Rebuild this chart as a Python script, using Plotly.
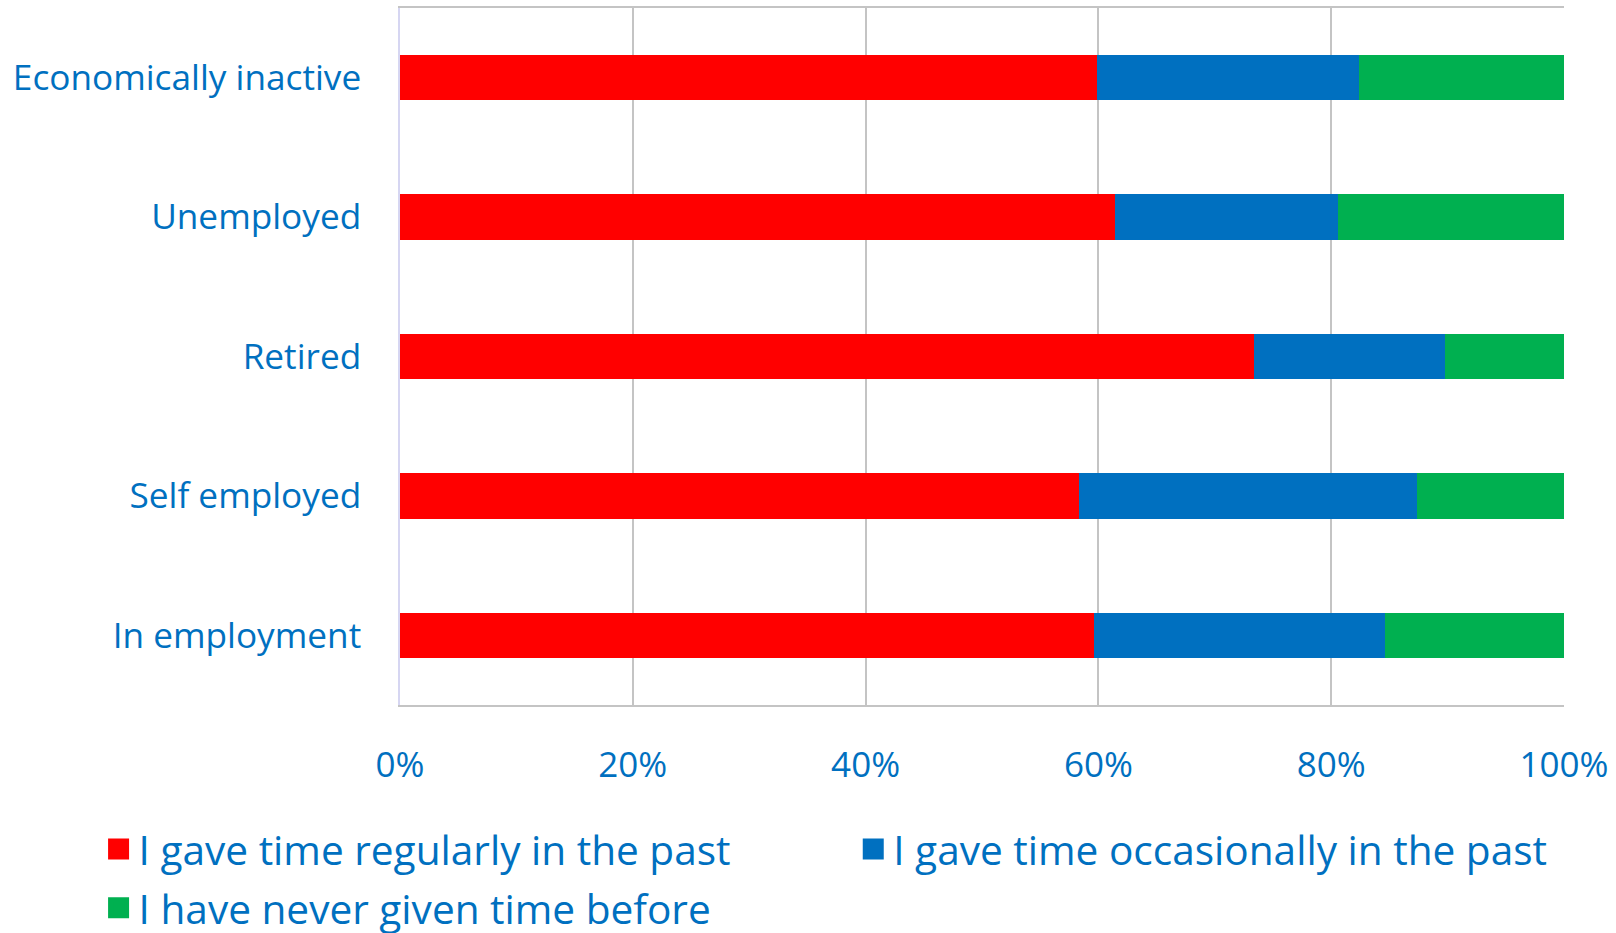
import plotly.graph_objects as go

# Employment status, bottom to top on the chart
categories = ["In employment", "Self employed", "Retired", "Unemployed", "Economically inactive"]

# Share of respondents (%) per answer
gave_regularly = [59.6, 58.3, 73.4, 61.4, 59.9]
gave_occasionally = [25.0, 29.1, 16.4, 19.2, 22.5]
never_given = [15.4, 12.6, 10.2, 19.4, 17.6]

series_names = [
    "I gave time regularly in the past",
    "I gave time occasionally in the past",
    "I have never given time before",
]
series_colors = ["#FF0000", "#0070C0", "#00B050"]
x_ticks = [0, 20, 40, 60, 80, 100]
x_tick_labels = [f"{v}%" for v in x_ticks]

TEXT = "#0070C0"
FONT = "Open Sans"

fig = go.Figure()

for name, vals, col in zip(series_names, [gave_regularly, gave_occasionally, never_given], series_colors):
    fig.add_trace(go.Bar(
        y=categories, x=vals, orientation="h", name=name,
        marker=dict(color=col, line=dict(width=0)),
        showlegend=False,
    ))

# Legend keys: one small legend per series so each entry sits in its own spot
legend_ids = ["legend", "legend2", "legend3"]
for name, col, lid in zip(series_names, series_colors, legend_ids):
    fig.add_trace(go.Scatter(
        x=[None], y=[None], mode="markers", name=name,
        marker=dict(symbol="square", size=16, color=col, line=dict(color=col, width=5)),
        legend=lid,
    ))

legend_style = dict(
    orientation="h", xref="container", yref="container",
    xanchor="left", yanchor="middle",
    font=dict(size=40.6, color=TEXT, family=FONT),
    bgcolor="rgba(0,0,0,0)",
)

fig.update_layout(
    width=1616, height=933,
    margin=dict(l=400, r=51.5, t=7.5, b=228, autoexpand=False),
    barmode="stack", bargap=0.675,
    plot_bgcolor="white", paper_bgcolor="white",
    font=dict(family=FONT, color=TEXT),
    legend=dict(legend_style, x=0.061, y=0.090),
    legend2=dict(legend_style, x=0.528, y=0.090),
    legend3=dict(legend_style, x=0.061, y=0.027),
)

fig.update_xaxes(
    range=[0, 100], tickmode="array", tickvals=x_ticks, ticktext=x_tick_labels,
    showgrid=True, gridcolor="#C4C4C4", gridwidth=1.5,
    zeroline=False, showline=True, mirror=True, linecolor="#C4C4C4", linewidth=1.5,
    ticks="", ticklabelstandoff=28,
    tickfont=dict(size=35, color=TEXT, family=FONT),
)
fig.update_yaxes(
    categoryorder="array", categoryarray=categories, range=[-0.5, 4.5],
    showgrid=False, zeroline=False,
    showline=True, linecolor="#D6D6F2", linewidth=1.5,
    ticks="", ticklabelstandoff=30,
    tickfont=dict(size=35.2, color=TEXT, family=FONT),
)

fig.write_html("out.html")
